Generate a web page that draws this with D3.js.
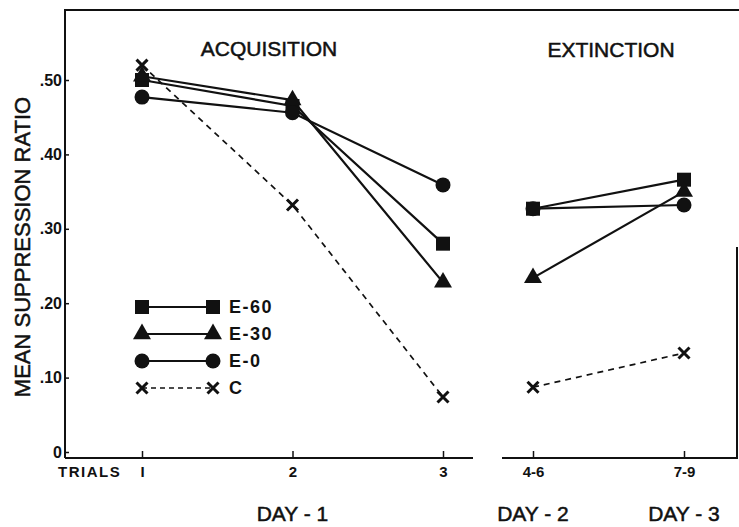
<!DOCTYPE html>
<html>
<head>
<meta charset="utf-8">
<script src="https://cdn.jsdelivr.net/npm/d3@7"></script>
<style>
  body { margin: 0; background: #fff; }
  text { font-family: "Liberation Sans", Arial, sans-serif; fill: #111; }
  .title { stroke: #111; stroke-width: 0.5px; }
</style>
</head>
<body>
<svg id="chart" width="739" height="527"></svg>
<script>
const acqTrials = ['1', '2', '3'];
const extTrials = ['4-6', '7-9'];
const trials = acqTrials.concat(extTrials);
const yTicks = [0, 0.1, 0.2, 0.3, 0.4, 0.5];

const e60 = [0.50, 0.465, 0.28, 0.327, 0.366];
const e30 = [0.505, 0.473, 0.228, 0.234, 0.35];
const e0 = [0.477, 0.456, 0.359, 0.327, 0.332];
const ctrl = [0.52, 0.332, 0.074, 0.087, 0.133];

const seriesNames = ['E-60', 'E-30', 'E-0', 'C'];
const seriesValues = [e60, e30, e0, ctrl];
const seriesShapes = ['square', 'triangle', 'circle', 'cross'];

const ink = '#111';
const svg = d3.select('#chart');

const frame = { left: 65, right: 737, top: 10, bottom: 458 };

const xAcq = d3.scalePoint().domain(acqTrials).range([142, 443]);
const xExt = d3.scalePoint().domain(extTrials).range([533, 684]);
const x = t => acqTrials.includes(t) ? xAcq(t) : xExt(t);

const y = d3.scaleLinear().domain([0, 0.5]).range([452, 80]);

// frame lines
svg.append('path')
  .attr('d', `M${frame.left},${frame.bottom}V${frame.top}H739`)
  .attr('fill', 'none').attr('stroke', ink).attr('stroke-width', 2);
svg.append('path')
  .attr('d', `M${frame.left},${frame.bottom}H473M502,${frame.bottom}H${frame.right}V247`)
  .attr('fill', 'none').attr('stroke', ink).attr('stroke-width', 2);

// y axis
const yAxis = svg.append('g')
  .attr('transform', `translate(${frame.left},0)`)
  .call(d3.axisLeft(y).tickValues(yTicks).tickSizeInner(-4).tickSizeOuter(0).tickPadding(3)
    .tickFormat(d => d === 0 ? '0' : d3.format('.2f')(d).replace('0.', '.')));
yAxis.select('.domain').remove();
yAxis.selectAll('line').attr('stroke', ink).attr('stroke-width', 1.5);
yAxis.selectAll('text').style('font-size', '16px').style('font-weight', 'bold').attr('fill', ink);

// x axes
[xAcq, xExt].forEach(sc => {
  const g = svg.append('g')
    .attr('transform', `translate(0,${frame.bottom})`)
    .call(d3.axisBottom(sc).tickSizeInner(-7).tickSizeOuter(0).tickPadding(8)
      .tickFormat(d => d === '1' ? 'I' : d));
  g.select('.domain').remove();
  g.selectAll('line').attr('stroke', ink).attr('stroke-width', 1.5);
  g.selectAll('text').style('font-size', '15px').style('font-weight', 'bold').attr('fill', ink);
});

svg.append('text')
  .attr('x', 58).attr('y', 477)
  .style('font-size', '15px').style('font-weight', 'bold').style('letter-spacing', '1.5px')
  .text('TRIALS');

// titles
svg.append('text').attr('class', 'title')
  .attr('transform', 'translate(30,247) rotate(-90)')
  .attr('text-anchor', 'middle')
  .style('font-size', '22px')
  .text('MEAN SUPPRESSION RATIO');
svg.append('text').attr('class', 'title').attr('x', 269).attr('y', 56).attr('text-anchor', 'middle')
  .style('font-size', '21px').text('ACQUISITION');
svg.append('text').attr('class', 'title').attr('x', 611).attr('y', 57).attr('text-anchor', 'middle')
  .style('font-size', '21px').text('EXTINCTION');

[['DAY - 1', xAcq('2')], ['DAY - 2', xExt('4-6')], ['DAY - 3', xExt('7-9')]].forEach(([t, cx]) => {
  svg.append('text').attr('class', 'title').attr('x', cx).attr('y', 521).attr('text-anchor', 'middle')
    .style('font-size', '21px').text(t);
});

function marker(g, shape, cx, cy) {
  if (shape === 'square') {
    g.append('rect').attr('x', cx - 7).attr('y', cy - 7).attr('width', 14).attr('height', 14).attr('fill', ink);
  } else if (shape === 'triangle') {
    g.append('path').attr('d', d3.symbol(d3.symbolTriangle, 140)()).attr('transform', `translate(${cx},${cy})`).attr('fill', ink);
  } else if (shape === 'circle') {
    g.append('circle').attr('cx', cx).attr('cy', cy).attr('r', 7.5).attr('fill', ink);
  } else {
    const s = 5.5;
    g.append('path').attr('d', `M${cx - s},${cy - s}L${cx + s},${cy + s}M${cx - s},${cy + s}L${cx + s},${cy - s}`)
      .attr('stroke', ink).attr('stroke-width', 3).attr('fill', 'none');
  }
}

const line = d3.line().x(d => x(d.t)).y(d => y(d.v));
const linesG = svg.append('g');
const marksG = svg.append('g');

seriesValues.forEach((vals, i) => {
  const pts = trials.map((t, j) => ({ t, v: vals[j] }));
  const dashed = seriesShapes[i] === 'cross';
  [pts.slice(0, 3), pts.slice(3)].forEach(seg => {
    linesG.append('path').datum(seg).attr('d', line)
      .attr('fill', 'none').attr('stroke', ink)
      .attr('stroke-width', dashed ? 1.7 : 2.2)
      .attr('stroke-dasharray', dashed ? '6,5' : null);
  });
  trials.forEach((t, j) => marker(marksG, seriesShapes[i], x(t), y(vals[j])));
});

// legend
const legend = svg.append('g');
const legendY = d3.scalePoint().domain(seriesNames).range([307, 388]);
seriesNames.forEach((name, i) => {
  const ly = legendY(name);
  const dashed = seriesShapes[i] === 'cross';
  legend.append('line').attr('x1', 142).attr('x2', 213).attr('y1', ly).attr('y2', ly)
    .attr('stroke', ink).attr('stroke-width', dashed ? 1.7 : 2.2)
    .attr('stroke-dasharray', dashed ? '5,4' : null);
  marker(legend, seriesShapes[i], 142, ly);
  marker(legend, seriesShapes[i], 213, ly);
  legend.append('text').attr('x', 229).attr('y', ly).attr('dy', '0.36em')
    .style('font-size', '18px').style('font-weight', 'bold').style('letter-spacing', '1.5px')
    .text(name);
});
</script>
</body>
</html>
